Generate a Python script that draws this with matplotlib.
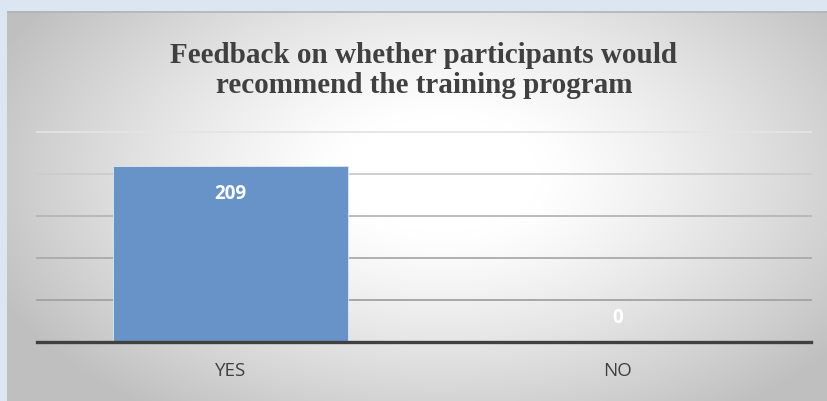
import matplotlib

matplotlib.use("Agg")
import matplotlib.pyplot as plt  # noqa: E402
import numpy as np  # noqa: E402

categories = ["YES", "NO"]
counts = [209, 0]
title = "Feedback on whether participants would\nrecommend the training program"

W, H = 828, 402
fig = plt.figure(figsize=(W / 100, H / 100), dpi=100, facecolor="#dce6f2")

# panel with a soft radial gradient (white centre, grey corners)
px0, py0 = 7, 12
bg = fig.add_axes([px0 / W, 0, (W - px0) / W, (H - py0) / H], zorder=0)
ny, nx = 200, 420
yy, xx = np.mgrid[0:1:ny * 1j, 0:1:nx * 1j]
r = np.sqrt(((xx - 0.53) / 0.6) ** 2 + ((yy - 0.42) / 0.75) ** 2)
r = np.clip((r - 0.2) / 0.8, 0, 1)
shade = 1.0 - 0.25 * r ** 1.2
bg.imshow(np.dstack([shade] * 3), aspect="auto", extent=[0, 1, 0, 1],
          interpolation="bilinear")
bg.plot([0, 1], [0.998, 0.998], color="#b4b4b4", lw=1.2, transform=bg.transAxes)
bg.set_axis_off()

ax = fig.add_axes([37 / W, (H - 343) / H, (811 - 37) / W, (343 - 133) / H], zorder=1)
ax.patch.set_alpha(0)
x = np.arange(len(categories))
ax.bar(x, counts, width=0.605, color="#6893c8", edgecolor="#dfe8f3",
       linewidth=0.6, zorder=3)
ax.set_xlim(-0.5, len(categories) - 0.5)
ax.set_ylim(0, 250)

# gridlines fade out towards the top, as in the original
grid_levels = np.arange(50, 251, 50)
grid_cols = ["#a2a2a2", "#aaaaaa", "#b6b6b6", "#cccccc", "#e4e4e4"]
for lv, c in zip(grid_levels, grid_cols):
    ax.axhline(lv, color=c, lw=1.3, zorder=1, clip_on=False)

ax.set_yticks([])
ax.set_xticks(x)
ax.set_xticklabels(categories, family="Open Sans", fontsize=13.5, color="#404040")
ax.tick_params(axis="x", length=0, pad=14)
for s in ["top", "right", "left"]:
    ax.spines[s].set_visible(False)
ax.spines["bottom"].set_color("#404040")
ax.spines["bottom"].set_linewidth(2.4)
ax.spines["bottom"].set_zorder(4)

for xi, v in zip(x, counts):
    off = -19 if v > 0 else 18
    ax.annotate(str(v), (xi, v), xytext=(0, off), textcoords="offset points",
                ha="center", va="center", family="Open Sans", fontweight="bold",
                fontsize=13.5, color="white", zorder=5)

fig.text((37 + 811) / 2 / W, (H - 93) / H, title, ha="center", va="baseline",
         family="Liberation Serif", fontweight="bold", fontsize=21,
         color="#404040", linespacing=1.12)

fig.savefig("out.png", dpi=100, facecolor=fig.get_facecolor())
